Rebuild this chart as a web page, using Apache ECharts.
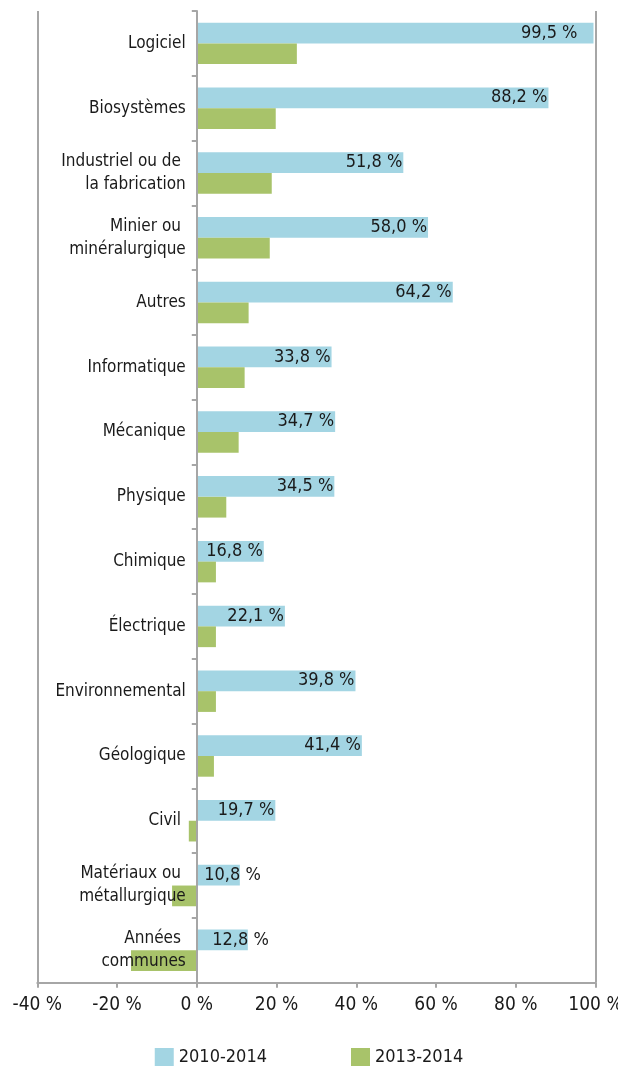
<!DOCTYPE html>
<html>
<head>
<meta charset="utf-8">
<script src="https://cdn.jsdelivr.net/npm/echarts@6/dist/echarts.min.js"></script>
<style>
html,body{margin:0;padding:0;background:#fff;}
#chart{width:618px;height:1066px;}
</style>
</head>
<body>
<div id="chart"></div>
<script>
var categories = [
  "Logiciel", "Biosystèmes", "Industriel ou de \nla fabrication", "Minier ou \nminéralurgique",
  "Autres", "Informatique", "Mécanique", "Physique", "Chimique", "Électrique",
  "Environnemental", "Géologique", "Civil ", "Matériaux ou \nmétallurgique", "Années \ncommunes"
];
var series2010_2014 = [99.5, 88.2, 51.8, 58.0, 64.2, 33.8, 34.7, 34.5, 16.8, 22.1, 39.8, 41.4, 19.7, 10.8, 12.8];
var series2013_2014 = [25.1, 19.8, 18.8, 18.3, 13.0, 12.0, 10.5, 7.4, 4.8, 4.8, 4.8, 4.3, -2.0, -6.2, -16.5];
var seriesNames = ["2010-2014", "2013-2014"];
var xTicks = [-40, -20, 0, 20, 40, 60, 80, 100];

var FONT = '"DejaVu Sans Condensed", "DejaVu Sans", sans-serif';
var GRAY = '#A6A6A6';
var BLUE = '#A3D5E3';
var GREEN = '#A8C36A';
var TXT = '#1a1a1a';

var W = 618, GL = 37.3, GR = 22.5;
var xMin = xTicks[0], xMax = xTicks[xTicks.length - 1];
// move the category axis onto the zero line of the value axis
var zeroOffset = -(W - GL - GR) * (0 - xMin) / (xMax - xMin);

function fmt(v) { return v.toFixed(1).replace('.', ',') + ' %'; }

var blueData = series2010_2014.map(function (v) {
  var off = 0;
  if (v < 14) off = 22;
  else if (v > 95) off = -15;
  return { value: v, label: { offset: [off, 0] } };
});

var chart = echarts.init(document.getElementById('chart'), null, { renderer: 'canvas' });
chart.setOption({
  animation: false,
  textStyle: { fontFamily: FONT },
  grid: { left: GL, right: GR, top: 11, bottom: 83.3, containLabel: false, outerBoundsMode: 'none' },
  legend: {
    data: seriesNames,
    left: 'center',
    top: 1043,
    itemWidth: 19,
    itemHeight: 19,
    itemGap: 84,
    icon: 'rect',
    textStyle: { fontFamily: FONT, fontSize: 18, color: TXT }
  },
  xAxis: {
    type: 'value',
    min: xMin,
    max: xMax,
    interval: xTicks[1] - xTicks[0],
    axisLine: { show: true, lineStyle: { color: GRAY, width: 2 } },
    axisTick: { show: true, length: 5, lineStyle: { color: GRAY, width: 2 } },
    splitLine: { show: false },
    axisLabel: {
      formatter: function (v) { return v + ' %'; },
      fontFamily: FONT, fontSize: 19, color: TXT, margin: 13
    }
  },
  yAxis: {
    type: 'category',
    inverse: true,
    data: categories,
    z: 10,
    offset: zeroOffset,
    axisLine: { show: true, onZero: false, lineStyle: { color: GRAY, width: 2 } },
    axisTick: { show: true, length: 5, lineStyle: { color: GRAY, width: 2 } },
    axisLabel: {
      fontFamily: FONT, fontSize: 17, color: TXT, margin: 11, lineHeight: 23
    }
  },
  series: [
    {
      name: seriesNames[0],
      type: 'bar',
      data: blueData,
      itemStyle: { color: BLUE },
      barGap: '0%',
      barCategoryGap: '36%',
      label: {
        show: true,
        position: 'insideRight',
        distance: 1,
        formatter: function (p) { return fmt(p.value); },
        fontFamily: FONT, fontSize: 18, color: TXT
      },
      markLine: {
        silent: true,
        symbol: ['none', 'none'],
        label: { show: false },
        lineStyle: { color: GRAY, width: 2, type: 'solid' },
        data: [{ xAxis: xMin }, { xAxis: xMax }]
      }
    },
    {
      name: seriesNames[1],
      type: 'bar',
      data: series2013_2014,
      itemStyle: { color: GREEN },
      barGap: '0%',
      barCategoryGap: '36%'
    }
  ]
});
</script>
</body>
</html>
